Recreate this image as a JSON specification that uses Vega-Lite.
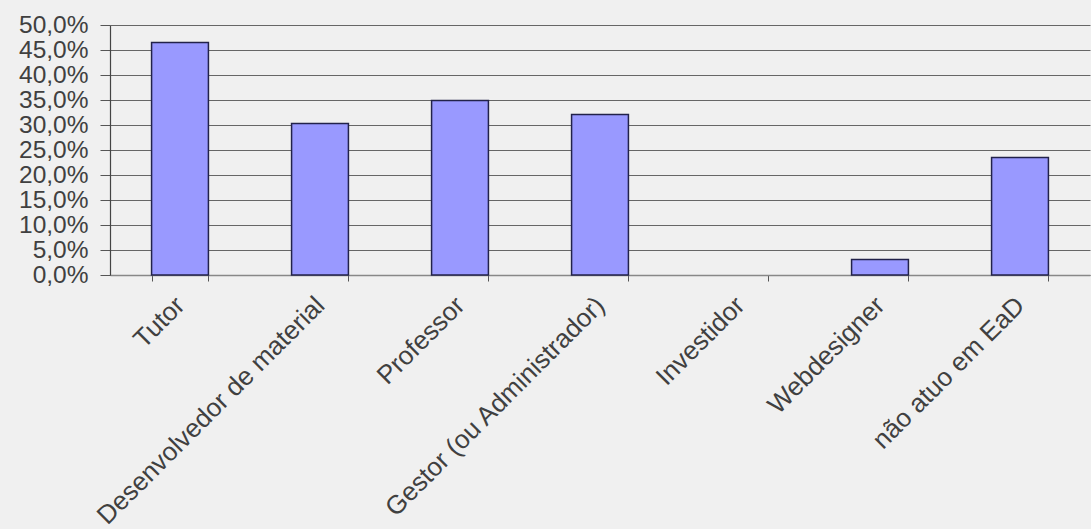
{
  "$schema": "https://vega.github.io/schema/vega-lite/v6.json",
  "width": 980,
  "height": 250,
  "autosize": "none",
  "padding": {"left": 110, "top": 25, "right": 1, "bottom": 254},
  "background": "#f0f0f0",
  "config": {"view": {"stroke": null}},
  "data": {
    "values": [
      {"funcao": "Tutor", "percentual": 0.465},
      {"funcao": "Desenvolvedor de material", "percentual": 0.303},
      {"funcao": "Professor", "percentual": 0.349},
      {"funcao": "Gestor (ou Administrador)", "percentual": 0.321},
      {"funcao": "Investidor", "percentual": 0.0},
      {"funcao": "Webdesigner", "percentual": 0.031},
      {"funcao": "não atuo em EaD", "percentual": 0.235}
    ]
  },
  "mark": {"type": "bar", "fill": "#9999ff", "stroke": "#22224a", "strokeWidth": 1.5},
  "encoding": {
    "strokeOpacity": {"condition": {"test": "datum.percentual > 0", "value": 1}, "value": 0},
    "x": {
      "field": "funcao",
      "type": "nominal",
      "sort": null,
      "scale": {"paddingInner": 0.594, "paddingOuter": 0.297},
      "axis": {
        "title": null,
        "labelAngle": -45,
        "labelAlign": "right",
        "labelBaseline": "middle",
        "labelPadding": 20,
        "labelFont": "Liberation Sans",
        "labelFontSize": 26,
        "labelColor": "#404040",
        "labelLimit": 0,
        "labelOverlap": false,
        "domainColor": "#888888",
        "domainWidth": 1.5,
        "tickBand": "extent",
        "tickColor": "#555555",
        "tickSize": 6,
        "grid": false
      }
    },
    "y": {
      "field": "percentual",
      "type": "quantitative",
      "scale": {"domain": [0, 0.5], "nice": false},
      "axis": {
        "title": null,
        "values": [0, 0.05, 0.1, 0.15, 0.2, 0.25, 0.3, 0.35, 0.4, 0.45, 0.5],
        "labelExpr": "replace(format(datum.value, '.1%'), '.', ',')",
        "labelFont": "Liberation Sans",
        "labelFontSize": 24.5,
        "labelColor": "#404040",
        "labelPadding": 12,
        "labelOverlap": false,
        "tickSize": 10,
        "tickColor": "#555555",
        "domainColor": "#444444",
        "domainWidth": 1.2,
        "grid": true,
        "gridColor": "#666666",
        "gridWidth": 1.2
      }
    }
  }
}
